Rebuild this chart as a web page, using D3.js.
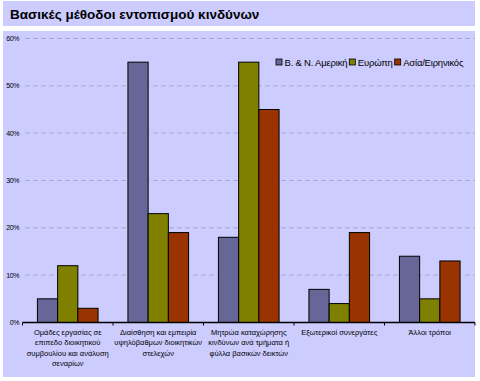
<!DOCTYPE html>
<html>
<head>
<meta charset="utf-8">
<script src="https://cdn.jsdelivr.net/npm/d3@7"></script>
<style>
  body { margin: 0; background: #ffffff; }
  svg { display: block; font-family: Arial, "Liberation Sans", sans-serif; }
</style>
</head>
<body>
<div id="chart"></div>
<script>
// Data
const categories = [
    ['Ομάδες εργασίας σε', 'επιπεδο διοικητικού', 'συμβουλίου και ανάλυση', 'σεναρίων'],
    ['Διαίσθηση και εμπειρία', 'υψηλόβαθμων διοικητικών', 'στελεχών'],
    ['Μητρώα καταχώρησης', 'κινδύνων ανά τμήματα ή', 'φύλλα βασικών δεικτών'],
    ['Εξωτερικοί συνεργάτες'],
    ['Άλλοι τρόποι']
];
const seriesNames = ['Β. & Ν. Αμερική', 'Ευρώπη', 'Ασία/Ειρηνικός'];
const america = [5, 55, 18, 7, 14];
const europe = [12, 23, 55, 4, 5];
const asia = [3, 19, 45, 19, 13];
const yTicks = [0, 10, 20, 30, 40, 50, 60];

const colors = ['#666699', '#808000', '#993300'];
const W = 480, H = 381;
const margin = { left: 22.5, right: 5, top: 38.5, bottom: 58.5 };

const svg = d3.select('#chart').append('svg')
    .attr('width', W)
    .attr('height', H);

// Title band
svg.append('rect')
    .attr('x', 3).attr('y', 1).attr('width', 472).attr('height', 25)
    .attr('fill', '#ccccff');
svg.append('text')
    .attr('x', 10).attr('y', 18.5)
    .attr('font-size', 13.5).attr('font-weight', 'bold')
    .attr('fill', '#000')
    .text('Βασικές μέθοδοι εντοπισμού κινδύνων');

// Chart panel
svg.append('rect')
    .attr('x', 3).attr('y', 31).attr('width', 472).attr('height', 346)
    .attr('fill', '#ccccff');

const x0 = d3.scaleBand()
    .domain(d3.range(categories.length))
    .range([margin.left, W - margin.right])
    .paddingInner(0.33)
    .paddingOuter(0.165);

const x1 = d3.scaleBand()
    .domain(d3.range(seriesNames.length))
    .range([0, x0.bandwidth()]);

const y = d3.scaleLinear()
    .domain([0, 60])
    .range([H - margin.bottom, margin.top]);

// Gridlines
svg.append('g')
    .selectAll('line')
    .data(yTicks.filter(d => d > 0))
    .enter()
    .append('line')
    .attr('x1', margin.left + 3).attr('x2', W - margin.right)
    .attr('y1', d => y(d)).attr('y2', d => y(d))
    .attr('stroke', '#a4a4c4')
    .attr('stroke-width', 1)
    .attr('stroke-dasharray', '4,4');

// Y axis labels
svg.append('g')
    .selectAll('text')
    .data(yTicks)
    .enter()
    .append('text')
    .attr('x', 19).attr('y', d => y(d) + 2.5)
    .attr('text-anchor', 'end')
    .attr('font-size', 7).attr('letter-spacing', -0.4)
    .attr('fill', '#000')
    .text(d => d + '%');

// Bars
const seriesData = [america, europe, asia];
const groups = svg.append('g')
    .selectAll('g')
    .data(seriesData)
    .enter()
    .append('g')
    .attr('fill', (d, i) => colors[i]);

groups.each(function(values, si) {
    d3.select(this).selectAll('rect')
        .data(values)
        .enter()
        .append('rect')
        .attr('x', (d, ci) => x0(ci) + x1(si))
        .attr('y', d => y(d))
        .attr('width', x1.bandwidth())
        .attr('height', d => y(0) - y(d))
        .attr('stroke', '#000')
        .attr('stroke-width', 1);
});

// X axis
const xAxis = svg.append('g');
xAxis.append('line')
    .attr('x1', margin.left).attr('x2', W - margin.right)
    .attr('y1', y(0)).attr('y2', y(0))
    .attr('stroke', '#000').attr('stroke-width', 1.5);

const catW = (W - margin.right - margin.left) / categories.length;
xAxis.selectAll('.tick')
    .data(d3.range(categories.length + 1))
    .enter()
    .append('line')
    .attr('x1', i => margin.left + i * catW)
    .attr('x2', i => margin.left + i * catW)
    .attr('y1', y(0)).attr('y2', y(0) + 3)
    .attr('stroke', '#000').attr('stroke-width', 1);

// Category labels
categories.forEach((lines, ci) => {
    const cx = x0(ci) + x0.bandwidth() / 2;
    const t = svg.append('text')
        .attr('x', cx)
        .attr('y', y(0) + 12)
        .attr('text-anchor', 'middle')
        .attr('font-size', 7.5)
        .attr('fill', '#000');
    lines.forEach((ln, li) => {
        t.append('tspan')
            .attr('x', cx)
            .attr('dy', li === 0 ? 0 : 10.5)
            .text(ln);
    });
});

// Legend, laid out left to right
const legend = svg.append('g');
let lx = 276;
seriesNames.forEach((name, i) => {
    legend.append('rect')
        .attr('x', lx).attr('y', 59)
        .attr('width', 6).attr('height', 6)
        .attr('fill', colors[i])
        .attr('stroke', '#000').attr('stroke-width', 0.8);
    const txt = legend.append('text')
        .attr('x', lx + 8.5).attr('y', 65.5)
        .attr('font-size', 9.5).attr('letter-spacing', -0.2)
        .attr('fill', '#000')
        .text(name);
    lx += 8.5 + txt.node().getComputedTextLength() + 2;
});
</script>
</body>
</html>
